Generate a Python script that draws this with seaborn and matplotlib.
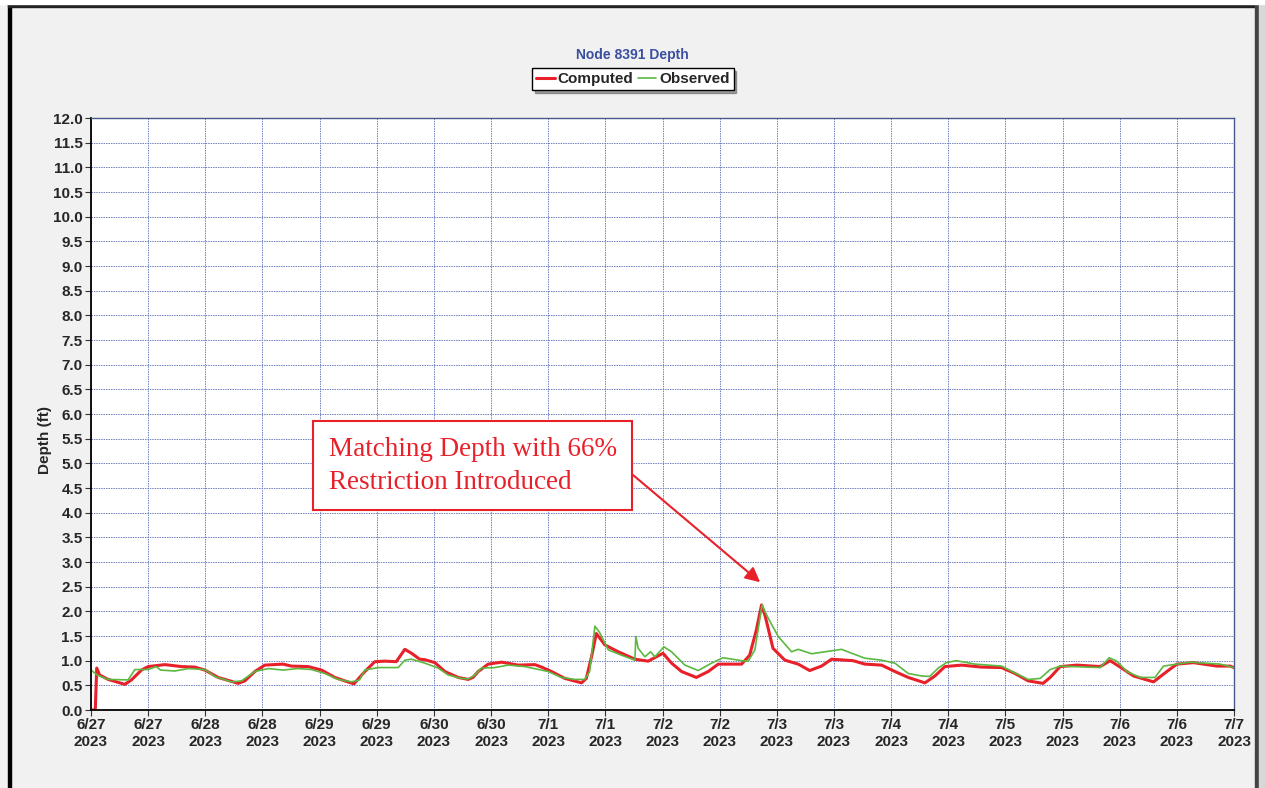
import matplotlib
matplotlib.use('Agg')
import matplotlib.pyplot as plt
import matplotlib.dates as mdates
from matplotlib.patches import Rectangle
from matplotlib.ticker import FuncFormatter, MultipleLocator
import pandas as pd
import seaborn as sns

# hours after 6/27/2023 00:00
computed_hours = [0, 0.9, 1.2, 1.8, 3.6, 7.1, 8.5, 10.6, 12, 15.5, 19, 21.8, 23.9, 26.7, 30.9, 32.3,
                  34.4, 36.5, 40.3, 42.1, 45.6, 48.4, 51.2, 53.3, 55.2, 57.5, 59.6, 61.7, 64.1, 65.9,
                  67.3, 69, 70.1, 72.2, 74.3, 77.1, 79.2, 80.2, 81.3, 83.4, 86.2, 89.7, 93.2, 94.6,
                  96.7, 99.5, 103, 104, 105.1, 106.1, 107.9, 110.7, 114.2, 117, 120.1, 121.9, 124,
                  127.1, 129.6, 131.7, 136.6, 138.3, 139.7, 140.8, 141.6, 143.2, 145.7, 148.5, 150.9,
                  153.4, 155.5, 160, 162.5, 166, 168.8, 171.6, 175.1, 177.2, 179.3, 182.8, 187, 191.2,
                  194, 196.8, 199.9, 201.4, 203.5, 207, 211.9, 214, 216.1, 218.9, 223.1, 225.9, 228,
                  231.5, 236.4, 239.2, 240]
computed_depth = [0, 0, 0.85, 0.71, 0.62, 0.52, 0.61, 0.81, 0.88, 0.92, 0.88, 0.87, 0.81, 0.66, 0.54, 0.59,
                  0.78, 0.91, 0.93, 0.89, 0.88, 0.81, 0.66, 0.59, 0.53, 0.78, 0.98, 0.99, 0.98, 1.23,
                  1.15, 1.03, 1.02, 0.96, 0.78, 0.66, 0.62, 0.66, 0.78, 0.93, 0.97, 0.91, 0.92, 0.87,
                  0.78, 0.64, 0.55, 0.64, 1.08, 1.55, 1.32, 1.18, 1.03, 0.99, 1.15, 0.95, 0.78,
                  0.66, 0.78, 0.93, 0.93, 1.11, 1.62, 2.13, 1.89, 1.25, 1.01, 0.93, 0.80,
                  0.89, 1.03, 1.0, 0.93, 0.91, 0.78, 0.66, 0.55, 0.69, 0.88, 0.91, 0.87, 0.86,
                  0.74, 0.59, 0.54, 0.66, 0.88, 0.91, 0.88, 1.0, 0.87, 0.69, 0.57, 0.78, 0.93,
                  0.96, 0.89, 0.89, 0.86]

observed_hours = [0, 1.3, 3.6, 7.8, 9.2, 12, 13.7, 14.6, 17.6, 20.4, 23.9, 26, 29.5, 31.6, 34.4, 37.2,
                  40.3, 43.5, 46.3, 49.1, 51.9, 54.7, 56.4, 57.5, 60.3, 64.5, 65.9, 67.3, 70.1, 72.9,
                  75, 77.8, 79.2, 80.5, 82, 84.8, 87.6, 91.1, 96, 98.8, 101.6, 103.7, 104.7, 105.8,
                  106.8, 108.6, 111.4, 114.2, 114.4, 114.9, 116.3, 117.5, 118.4, 120.3, 121.9, 124.7,
                  127.5, 130.3, 132.7, 136.6, 138, 139.4, 140.9, 142.2, 144.3, 147.1, 148.5, 151.3,
                  154.1, 157.6, 160, 162.5, 166, 168.8, 171.6, 174.4, 176.1, 177.9, 179.6, 181.7,
                  185.6, 191.2, 194, 196.8, 199.3, 201.4, 203.5, 211.9, 213.8, 215.4, 217.5, 220.3,
                  223.4, 225.2, 228, 230.8, 237.1, 240]
observed_depth = [0.81, 0.71, 0.62, 0.61, 0.82, 0.82, 0.88, 0.81, 0.79, 0.84, 0.82, 0.68, 0.57, 0.59, 0.78, 0.84,
                  0.81, 0.84, 0.82, 0.74, 0.62, 0.57, 0.61, 0.81, 0.86, 0.86, 1.01, 1.03, 0.95, 0.85,
                  0.71, 0.64, 0.63, 0.70, 0.85, 0.86, 0.91, 0.88, 0.78, 0.66, 0.62, 0.62, 0.78, 1.70,
                  1.57, 1.22, 1.11, 1.01, 1.49, 1.25, 1.08, 1.18, 1.08, 1.28, 1.18, 0.91,
                  0.80, 0.95, 1.06, 1.0, 0.99, 1.22, 2.13, 1.86, 1.49, 1.18, 1.23, 1.14,
                  1.18, 1.23, 1.14, 1.05, 1.01, 0.95, 0.74, 0.69, 0.68, 0.85, 0.96, 1.0,
                  0.93, 0.89, 0.75, 0.62, 0.64, 0.82, 0.89, 0.86, 1.06, 0.99, 0.78, 0.66,
                  0.66, 0.89, 0.93, 0.97, 0.93, 0.86]

start = pd.Timestamp('2023-06-27 00:00')
comp = pd.DataFrame({'time': start + pd.to_timedelta(computed_hours, unit='h'), 'depth': computed_depth})
obs = pd.DataFrame({'time': start + pd.to_timedelta(observed_hours, unit='h'), 'depth': observed_depth})

sns.set_style('white')
plt.rcParams['font.family'] = ['Liberation Sans', 'DejaVu Sans']

red = '#e8202a'
green = '#5cb840'

fig = plt.figure(figsize=(12.65, 7.88), dpi=100, facecolor='#f0f1f0')
ax = fig.add_axes([91 / 1265, 1 - 710 / 788, 1143 / 1265, 592 / 788])
ax.set_facecolor('white')

sns.lineplot(data=comp, x='time', y='depth', ax=ax, color=red, linewidth=2.2, label='Computed', estimator=None)
sns.lineplot(data=obs, x='time', y='depth', ax=ax, color=green, linewidth=1.2, label='Observed', estimator=None)

ax.set_xlim(start, start + pd.Timedelta(hours=240))
ax.set_ylim(0, 12)
ax.yaxis.set_major_locator(MultipleLocator(0.5))
ax.yaxis.set_major_formatter(FuncFormatter(lambda v, p: f'{v:.1f}'))
ax.xaxis.set_major_locator(mdates.HourLocator(byhour=[0, 12]))


def date_label(v, p):
    d = mdates.num2date(v)
    return f'{d.month}/{d.day}\n{d.year}'


ax.xaxis.set_major_formatter(FuncFormatter(date_label))
ax.grid(True, color='#7080c0', linestyle=(0, (1.5, 1)), linewidth=0.7)
ax.tick_params(axis='both', which='major', length=4, width=0.8, color='#333333', labelsize=11,
               left=True, bottom=True, pad=2)
for lbl in ax.get_xticklabels() + ax.get_yticklabels():
    lbl.set_fontweight('bold')

ax.set_xlabel('')
ax.set_ylabel('Depth (ft)', fontsize=11, fontweight='bold')
ax.yaxis.set_label_coords(-0.034, 0.456)

for side in ['left', 'bottom']:
    ax.spines[side].set_color('black')
    ax.spines[side].set_linewidth(1.3)
for side in ['top', 'right']:
    ax.spines[side].set_color('#4a5a8a')
    ax.spines[side].set_linewidth(1.0)

fig.text(0.5, 1 - 55 / 788, 'Node 8391 Depth', ha='center', va='center', fontsize=10,
         fontweight='bold', color='#3a4fa0')

ax.legend_.remove()
handles, labels = ax.get_legend_handles_labels()
leg = fig.legend(handles, labels, loc='center', bbox_to_anchor=(633 / 1265, 1 - 79 / 788), ncol=2,
                 frameon=True, fancybox=False, shadow=True, handlelength=1.2, handletextpad=0.2,
                 columnspacing=0.3, borderpad=0.25, prop={'weight': 'bold', 'size': 11})
leg.get_frame().set_edgecolor('black')
leg.get_frame().set_linewidth(1.0)

ax.annotate('Matching Depth with 66%\nRestriction Introduced',
            xy=(start + pd.Timedelta(hours=140.5), 2.59),
            xytext=(start + pd.Timedelta(hours=49.9), 4.95),
            ha='left', va='center', fontsize=19.5, color=red, family='Liberation Serif',
            linespacing=1.4,
            bbox=dict(boxstyle='square,pad=0.58', fc='white', ec=red, lw=1.5),
            arrowprops=dict(arrowstyle='-|>', color=red, lw=1.5, relpos=(1, 0.58),
                            shrinkA=0, shrinkB=0, mutation_scale=22))

# window frame
fig.add_artist(Rectangle((8 / 1265, 0), 3 / 1265, 1 - 4 / 788, transform=fig.transFigure,
                         color='black', zorder=10))
fig.add_artist(Rectangle((8 / 1265, 1 - 7 / 788), 1250 / 1265, 3 / 788, transform=fig.transFigure,
                         color='#222222', zorder=10))
fig.add_artist(Rectangle((1255 / 1265, 0), 4 / 1265, 1 - 4 / 788, transform=fig.transFigure,
                         color='#444444', zorder=10))
fig.add_artist(Rectangle((1259 / 1265, 0), 6 / 1265, 1, transform=fig.transFigure,
                         color='#d8d8d8', zorder=10))
fig.add_artist(Rectangle((0, 1 - 4 / 788), 1, 4 / 788, transform=fig.transFigure,
                         color='white', zorder=10))

fig.savefig('out.png', dpi=100, facecolor=fig.get_facecolor())
